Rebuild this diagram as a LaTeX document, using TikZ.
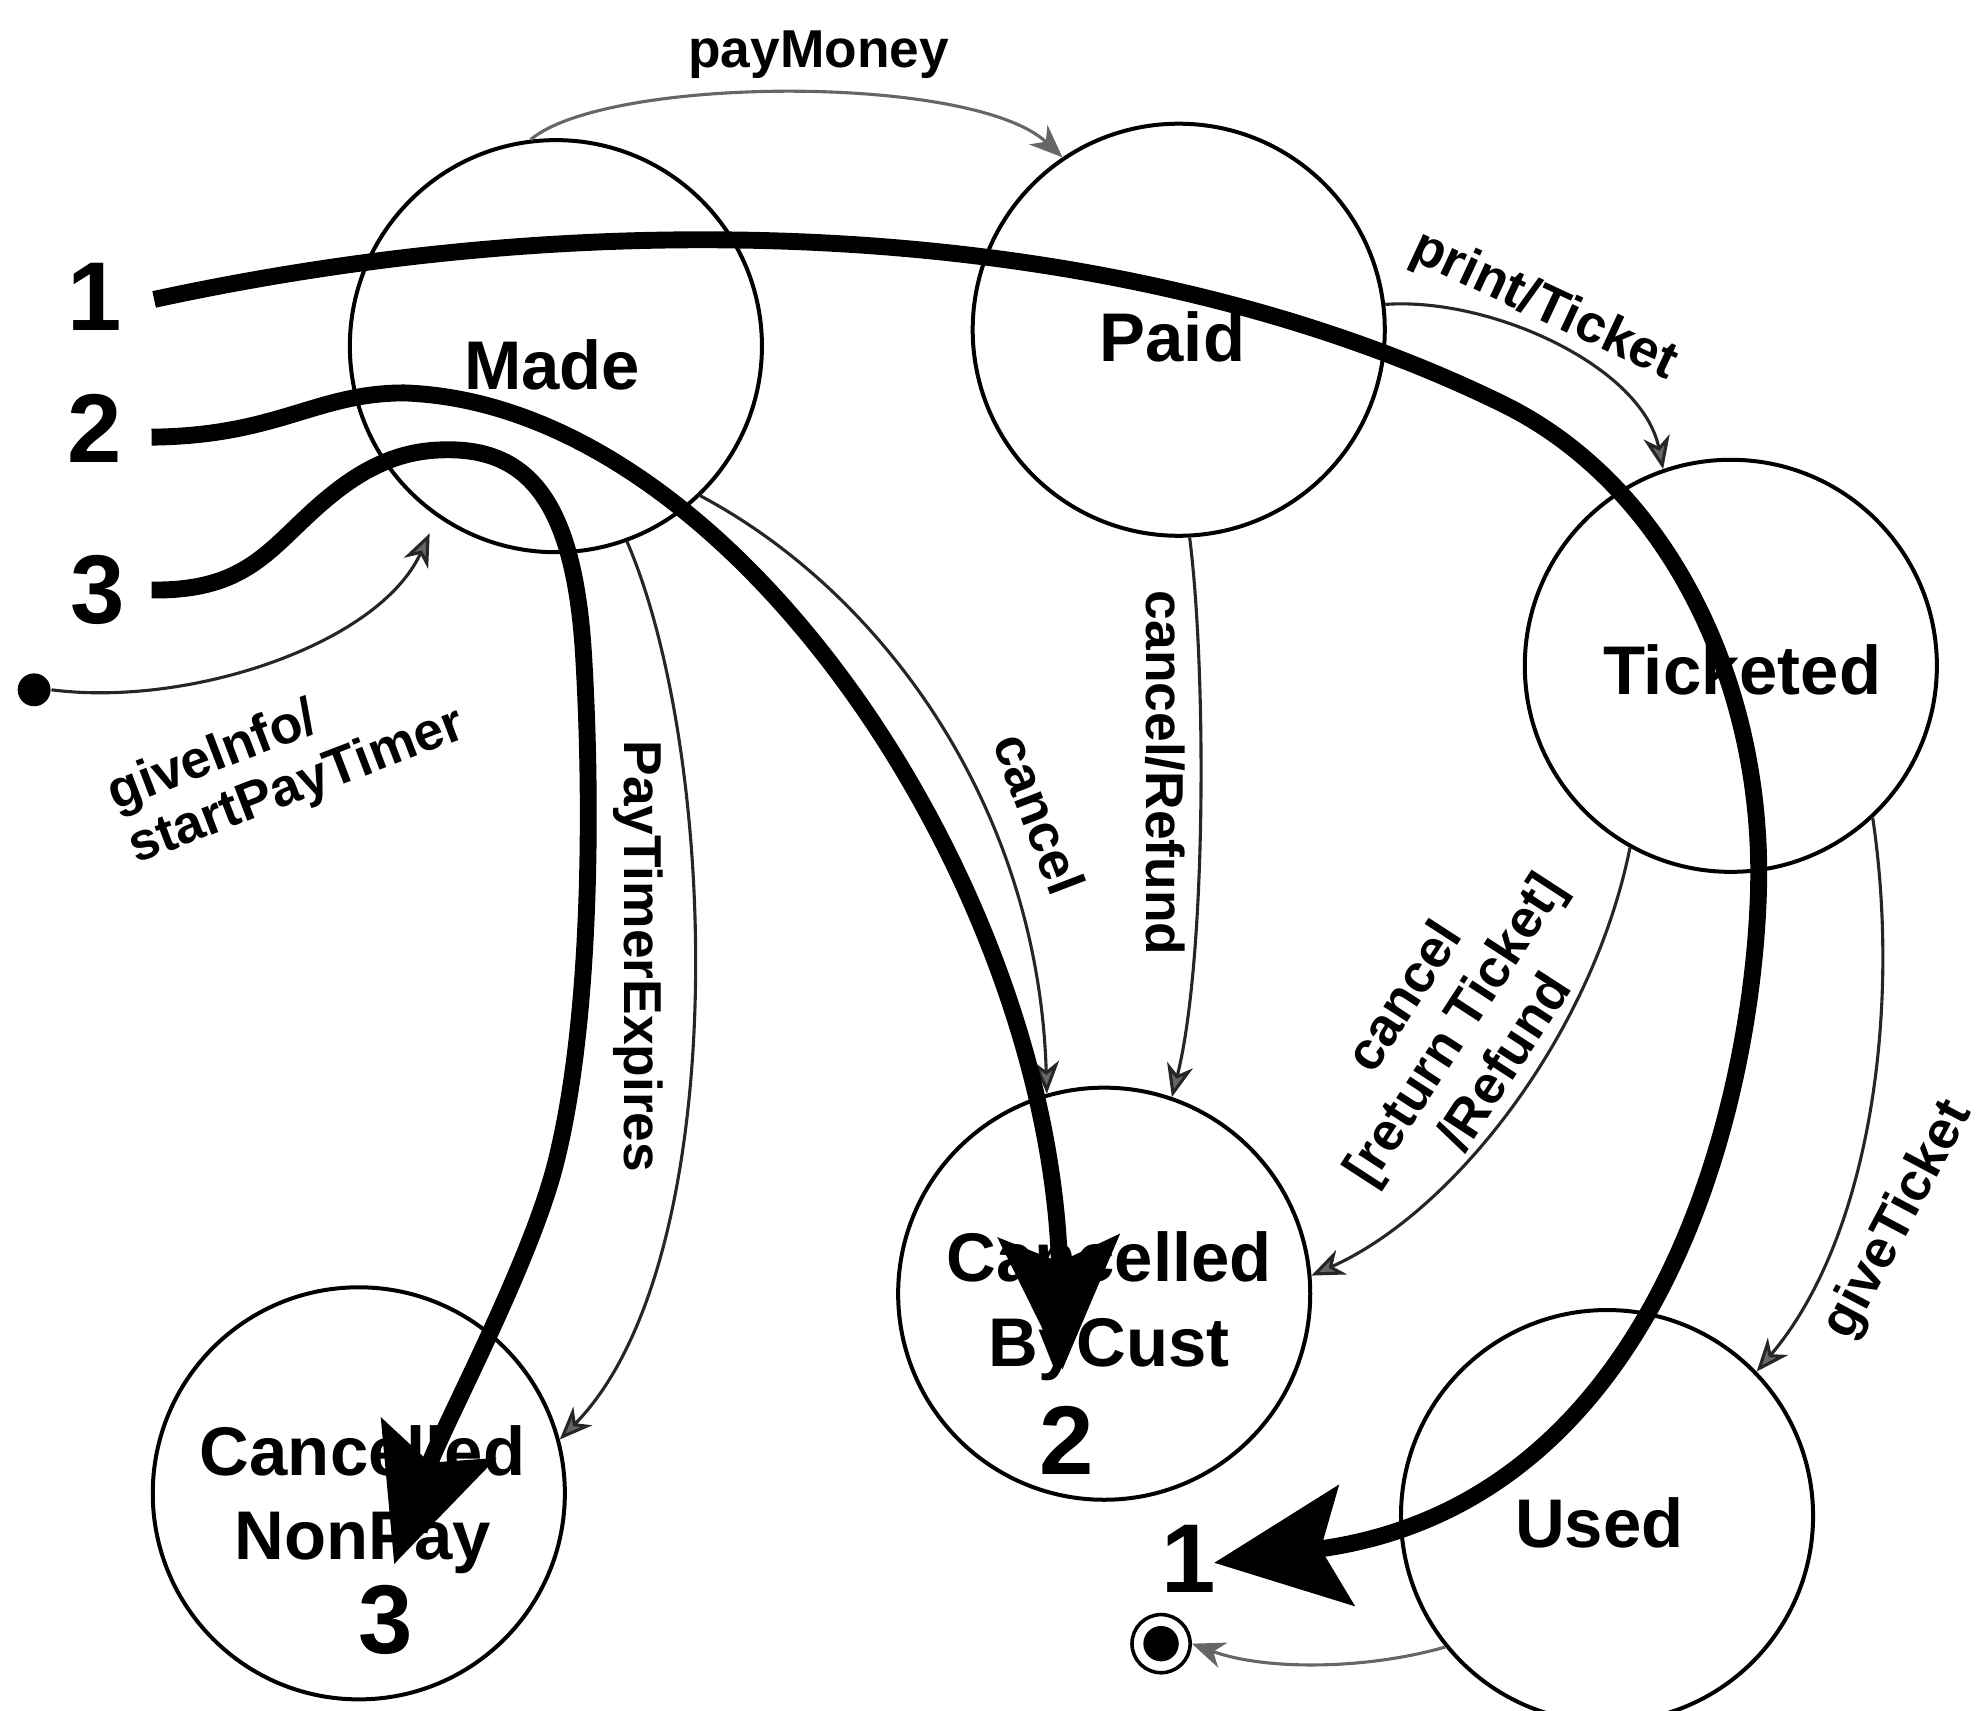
\documentclass[tikz,border=0pt]{standalone}
\usepackage{fontspec}
\setmainfont{Liberation Sans}
\usetikzlibrary{arrows.meta,calc}
\begin{document}
\begin{tikzpicture}[x=0.01cm,y=-0.01cm,
  state/.style={circle,draw,line width=0.9pt,minimum size=3.26cm,inner sep=0pt},
  sname/.style={font=\fontsize{15.5}{17}\selectfont\bfseries,align=center,inner sep=0pt},
  lbl/.style={font=\fontsize{12}{14}\selectfont\bfseries,inner sep=0pt,align=center},
  num/.style={font=\fontsize{22}{24}\selectfont\bfseries,inner sep=0pt},
  trans/.style={draw=black!85,line width=0.7pt,-{Stealth[length=2.6mm,width=2.1mm,inset=0.8mm,fill=black!60]}},
  story/.style={line width=3.8pt},
  bighead/.style={-{Stealth[length=10.5mm,width=9.5mm,inset=2mm]}}
]
\useasboundingbox (0,0) rectangle (1568,1354);

% states
\node[state] (made) at (440,274) {};
\node[state] (paid) at (933,261) {};
\node[state] (ticketed) at (1370,527) {};
\node[state] (cbc) at (874,1024) {};
\node[state] (cnp) at (284,1182) {};
\node[state] (used) at (1272,1200) {};
\node[circle,fill=black,minimum size=0.26cm,inner sep=0pt] (init) at (27,546) {};
\node[circle,draw,line width=0.8pt,minimum size=0.46cm,inner sep=0pt] (final) at (919,1301) {};
\fill (final.center) circle (0.14cm);

% state names
\node[sname] (madet) at (437,289) {Made};
\node[sname] (paidt) at (928,267) {Paid};
\node[sname] (tickt) at (1379,530) {Ticketed};
\node[sname] (cbct) at (878,1034) {Cancelled\\[2pt]ByCust};
\node[sname] (cnpt) at (287,1187) {Cancelled\\[2pt]NonPay};
\node[sname] (usedt) at (1266,1205) {Used};

% transitions
\draw[trans,draw=black!60] (made.97) .. controls (480,60) and (770,58) .. (paid.124);
\draw[trans] (paid.7) .. controls (1180,235) and (1300,290) .. (ticketed.109);
\draw[trans] (init.east) .. controls (150,560) and (300,510) .. ($(made.center)!1.085!(made.236)$);
\draw[trans] (paid.273) .. controls (955,530) and (955,760) .. (cbc.71);
\draw[trans] (made.314) .. controls (700,470) and (822,640) .. (cbc.106);
\draw[trans] (made.290) .. controls (570,600) and (580,1000) .. (cnp.15);
\draw[trans] (ticketed.241) .. controls (1260,820) and (1150,960) .. (cbc.5);
\draw[trans] (ticketed.313) .. controls (1505,800) and (1480,980) .. (used.44);
\draw[trans,draw=black!60] (used.219) .. controls (1080,1322) and (1000,1322) .. (final.east);

% transition labels
\node[lbl] (lpay) at (648,43) {payMoney};
\node[lbl,rotate=-25] (lprint) at (1222,243) {print/Ticket};
\node[lbl,rotate=21,align=left,font=\fontsize{12}{13}\selectfont\bfseries] (linit) at (227,602) {giveInfo/\\startPayTimer};
\node[lbl,rotate=-90] (lpte) at (505,757) {PayTimerExpires};
\node[lbl,rotate=-69] (lcan) at (823,644) {cancel};
\node[lbl,rotate=-90] (lcr) at (922,612) {cancel/Refund};
\node[lbl,rotate=57,font=\fontsize{12}{13.5}\selectfont\bfseries] (lcrt) at (1150,814) {cancel\\{[return Ticket]}\\/Refund};
\node[lbl,rotate=62] (lgive) at (1503,966) {giveTicket};

% scenario numbers
\node[num] (n1) at (75,235) {1};
\node[num] (n2) at (75,339) {2};
\node[num] (n3) at (77,467) {3};
\node[num] (e2) at (844,1140) {2};
\node[num] (e3) at (305,1282) {3};
\node[num] (e1) at (941,1234) {1};

\coordinate (s1) at (122,237);
\coordinate (s2) at (120,346);
\coordinate (s3) at (120,467);
\coordinate (t1) at (961,1237);
\coordinate (t2) at (841,1084);
\coordinate (t3) at (312,1238);

% scenario paths
\draw[story,bighead] (s1) .. controls (500,155) and (900,178) .. (1190,320)
  .. controls (1320,384) and (1395,540) .. (1392,700)
  .. controls (1389,860) and (1320,1190) .. (t1);
\draw[story,bighead] (s2) .. controls (220,345) and (250,311) .. (320,311)
  .. controls (580,320) and (830,700) .. (t2);
\draw[story,bighead] (s3) .. controls (200,468) and (215,430) .. (262,392)
  .. controls (300,361) and (330,356) .. (355,356)
  .. controls (420,356) and (455,400) .. (462,520)
  .. controls (468,620) and (470,800) .. (440,920)
  .. controls (420,1000) and (350,1130) .. (t3);
\end{tikzpicture}
\end{document}
